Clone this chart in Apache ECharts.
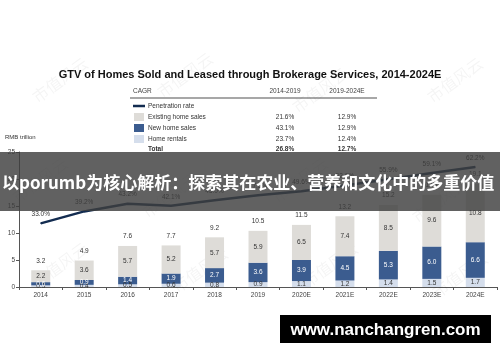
<!DOCTYPE html>
<html>
<head>
<meta charset="utf-8">
<script src="https://cdn.jsdelivr.net/npm/echarts@6/dist/echarts.min.js"></script>
<style>
html,body{margin:0;padding:0;background:#fff;}
#chart{width:500px;height:362px;}
</style>
</head>
<body>
<div id="chart"></div>
<script>
var years = ['2014','2015','2016','2017','2018','2019','2020E','2021E','2022E','2023E','2024E'];
var existingSales = [2.2, 3.6, 5.7, 5.2, 5.7, 5.9, 6.5, 7.4, 8.5, 9.6, 10.8];
var newSales = [0.6, 0.9, 1.4, 1.9, 2.7, 3.6, 3.9, 4.5, 5.3, 6.0, 6.6];
var rentals = [0.3, 0.4, 0.5, 0.6, 0.8, 0.9, 1.1, 1.2, 1.4, 1.5, 1.7];
var totals = [3.2, 4.9, 7.6, 7.7, 9.2, 10.5, 11.5, 13.2, 15.2, 17.1, 19.1];
var penetration = [33.0, 39.2, 43.2, 42.1, 45.0, 47.6, 49.6, 52.6, 55.9, 59.1, 62.2];
var yTicks = [0, 5, 10, 15, 20, 25];

var cagrHeaders = ['CAGR', '2014-2019', '2019-2024E'];
var cagrRows = ['Penetration rate', 'Existing home sales', 'New home sales', 'Home rentals', 'Total'];
var cagr1419 = ['', '21.6%', '43.1%', '23.7%', '26.8%'];
var cagr1924 = ['', '12.9%', '12.9%', '12.4%', '12.7%'];

var bannerText = '以porumb为核心解析：探索其在农业、营养和文化中的多重价值';
var siteText = 'www.nanchangren.com';
var titleText = 'GTV of Homes Sold and Leased through Brokerage Services, 2014-2024E';
var watermark = '市值风云';

var C_EXIST = '#dedcd8', C_NEW = '#3b5c8f', C_RENT = '#d5deec', C_LINE = '#132c50';
var FONT = 'Liberation Sans, Arial, sans-serif';

var chart = echarts.init(document.getElementById('chart'), null, {renderer:'canvas'});

var g = [];
var wmPos = [[60,80],[185,75],[320,90],[455,80],[40,180],[170,195],[300,180],[440,200],[60,265],[200,270],[330,265],[460,275]];
wmPos.forEach(function(p){
  g.push({type:'text', x:p[0], y:p[1], rotation:Math.PI/5, z:1,
    style:{text:watermark, fill:'rgba(0,0,0,0.045)', font:'16px "Noto Sans CJK SC"', align:'center', verticalAlign:'middle'}});
});
var rowsY = [106, 117, 128, 139, 149];
g.push({type:'text', x:133, y:91, style:{text:cagrHeaders[0], fill:'#444', font:'6.5px '+FONT, verticalAlign:'middle'}});
g.push({type:'text', x:285, y:91, style:{text:cagrHeaders[1], fill:'#444', font:'6.5px '+FONT, align:'center', verticalAlign:'middle'}});
g.push({type:'text', x:347, y:91, style:{text:cagrHeaders[2], fill:'#444', font:'6.5px '+FONT, align:'center', verticalAlign:'middle'}});
g.push({type:'line', shape:{x1:130, y1:98, x2:377, y2:98}, style:{stroke:'#8a8a8a', lineWidth:1.5}});
g.push({type:'line', shape:{x1:133, y1:rowsY[0], x2:145, y2:rowsY[0]}, style:{stroke:C_LINE, lineWidth:2.5}});
[C_EXIST, C_NEW, C_RENT].forEach(function(c, i){
  g.push({type:'rect', shape:{x:134, y:rowsY[i+1]-4, width:10, height:8}, style:{fill:c}});
});
cagrRows.forEach(function(r, i){
  g.push({type:'text', x:148, y:rowsY[i], style:{text:r, fill:'#333', font:(i===4?'bold ':'')+'6.5px '+FONT, verticalAlign:'middle'}});
  g.push({type:'text', x:285, y:rowsY[i], style:{text:cagr1419[i], fill:'#333', font:(i===4?'bold ':'')+'6.5px '+FONT, align:'center', verticalAlign:'middle'}});
  g.push({type:'text', x:347, y:rowsY[i], style:{text:cagr1924[i], fill:'#333', font:(i===4?'bold ':'')+'6.5px '+FONT, align:'center', verticalAlign:'middle'}});
});
g.push({type:'text', x:5, y:137, style:{text:'RMB trillion', fill:'#333', font:'6px '+FONT, verticalAlign:'middle'}});
g.push({type:'rect', z:100, shape:{x:0, y:152, width:500, height:59}, style:{fill:'rgba(62,62,62,0.82)'}});
g.push({type:'text', z:101, x:2, y:183, style:{text:bannerText, fill:'#ffffff', font:'bold 17px "Noto Sans CJK SC"', verticalAlign:'middle'}});
g.push({type:'rect', z:100, shape:{x:280, y:315, width:211, height:28}, style:{fill:'#000'}});
g.push({type:'text', z:101, x:385.5, y:330, style:{text:siteText, fill:'#fff', font:'bold 17px '+FONT, align:'center', verticalAlign:'middle'}});

var segLabel = function(color){
  return {show:true, position:'inside', color:color, fontSize:6.5, fontFamily:FONT,
    formatter:function(p){return p.value.toFixed(1);}};
};

chart.setOption({
  backgroundColor:'#ffffff',
  animation:false,
  title:{text:titleText, left:'center', top:64, textStyle:{fontSize:11, fontWeight:'bold', color:'#111', fontFamily:FONT}},
  grid:{left:19, right:3, top:152, bottom:75, containLabel:false},
  xAxis:{type:'category', data:years,
    axisLine:{lineStyle:{color:'#555', width:1}},
    axisTick:{show:true, length:3, lineStyle:{color:'#555'}},
    axisLabel:{fontSize:6.5, color:'#444', fontFamily:FONT, margin:5}},
  yAxis:[{type:'value', min:0, max:25, interval:5,
    axisLine:{show:true, lineStyle:{color:'#555', width:1}},
    axisTick:{show:true, length:3, lineStyle:{color:'#555'}},
    axisLabel:{fontSize:6.5, color:'#444', fontFamily:FONT, margin:4,
      formatter:function(v){return yTicks.indexOf(v)>=0 ? String(v) : '';}},
    splitLine:{show:false}},
    {type:'value', min:0, max:70, show:false, splitLine:{show:false}}],
  graphic:g,
  series:[
    {name:'Home rentals', type:'bar', stack:'gtv', data:rentals, barWidth:19, itemStyle:{color:C_RENT}, label:segLabel('#333')},
    {name:'New home sales', type:'bar', stack:'gtv', data:newSales, barWidth:19, itemStyle:{color:C_NEW}, label:segLabel('#ffffff')},
    {name:'Existing home sales', type:'bar', stack:'gtv', data:existingSales, barWidth:19, itemStyle:{color:C_EXIST}, label:segLabel('#333')},
    {name:'Total', type:'bar', stack:'gtv', data:years.map(function(){return 0;}), barWidth:19, itemStyle:{color:'transparent'},
      label:{show:true, position:'top', distance:6, color:'#333', fontSize:6.5, fontFamily:FONT,
        formatter:function(p){return totals[p.dataIndex].toFixed(1);}}},
    {name:'Penetration rate', type:'line', yAxisIndex:1, data:penetration, symbol:'circle', symbolSize:1, showSymbol:true, z:5,
      itemStyle:{color:C_LINE}, lineStyle:{color:C_LINE, width:2.5},
      label:{show:true, position:'top', distance:5, color:'#333', fontSize:6.5, fontFamily:FONT,
        formatter:function(p){return p.value.toFixed(1)+'%';}}}
  ]
});
</script>
</body>
</html>
